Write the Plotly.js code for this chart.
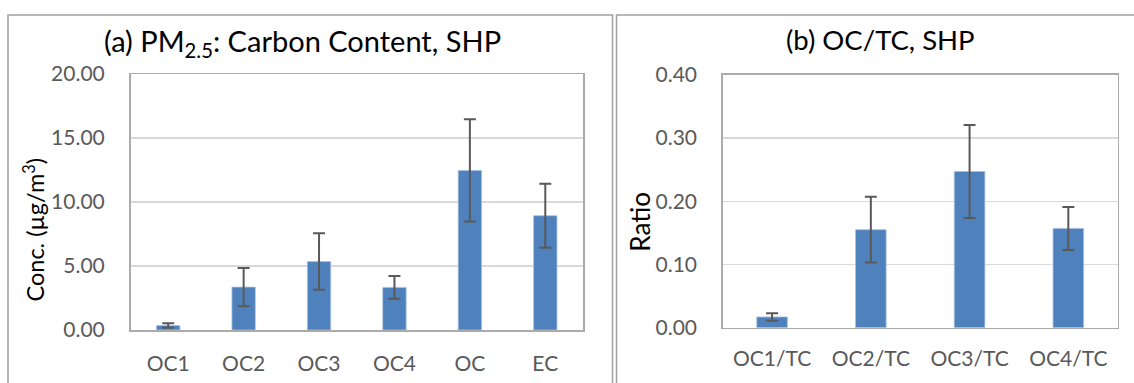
<!DOCTYPE html>
<html>
<head>
<meta charset="utf-8">
<script src="https://cdn.plot.ly/plotly-3.0.1.min.js"></script>
<style>html,body{margin:0;padding:0;background:#fff;}#chart{width:1134px;height:383px;}</style>
</head>
<body>
<div id="chart"></div>
<script>
// Panel (a): PM2.5 carbon content, SHP
const categoriesA = ["OC1", "OC2", "OC3", "OC4", "OC", "EC"];
const valuesA = [0.35, 3.35, 5.35, 3.33, 12.47, 8.93];
const errorsA = [0.18, 1.5, 2.2, 0.88, 4.0, 2.5];
const yTicksA = [0, 5, 10, 15, 20];

// Panel (b): OC/TC ratio, SHP
const categoriesB = ["OC1/TC", "OC2/TC", "OC3/TC", "OC4/TC"];
const valuesB = [0.017, 0.155, 0.247, 0.157];
const errorsB = [0.006, 0.052, 0.0735, 0.034];
const yTicksB = [0, 0.1, 0.2, 0.3, 0.4];

const FONT = "Lato, 'Open Sans', sans-serif";
const W = 1134, H = 383;
const px = v => v / W;
const py = v => (H - v) / H;

const barStyle = {color: "#4f81bd", line: {color: "#a9c1df", width: 0.8}};
const errStyle = {type: "data", visible: true, color: "#595959", thickness: 2, width: 6};

const traces = [
  {type: "bar", x: categoriesA, y: valuesA, xaxis: "x", yaxis: "y",
   marker: barStyle, error_y: Object.assign({array: errorsA}, errStyle), hoverinfo: "none"},
  {type: "bar", x: categoriesB, y: valuesB, xaxis: "x2", yaxis: "y2",
   marker: barStyle, error_y: Object.assign({array: errorsB}, errStyle), hoverinfo: "none"}
];

const axisCommon = {
  showline: true, mirror: true, linecolor: "#ababab", linewidth: 1.5,
  automargin: false, fixedrange: true,
  tickfont: {family: FONT, size: 21, color: "#595959"}
};

const layout = {
  width: W, height: H,
  margin: {l: 0, r: 0, t: 0, b: 0, pad: 0},
  paper_bgcolor: "#ffffff", plot_bgcolor: "#ffffff",
  showlegend: false, bargap: 0.69,
  xaxis: Object.assign({}, axisCommon, {
    domain: [px(130.5), px(583)], anchor: "y", type: "category",
    showgrid: false, ticks: "outside", ticklen: 0, ticklabelstandoff: 14
  }),
  yaxis: Object.assign({}, axisCommon, {
    domain: [py(330), py(74)], anchor: "x", range: [0, 20],
    tickvals: yTicksA, tickformat: ".2f",
    showgrid: true, gridcolor: "#d9d9d9", gridwidth: 1.3, zeroline: false,
    ticks: "outside", ticklen: 0, ticklabelstandoff: 20
  }),
  xaxis2: Object.assign({}, axisCommon, {
    domain: [px(722.7), px(1117.7)], anchor: "y2", type: "category",
    showgrid: false, ticks: "outside", ticklen: 0, ticklabelstandoff: 12
  }),
  yaxis2: Object.assign({}, axisCommon, {
    domain: [py(327.7), py(74.7)], anchor: "x2", range: [0, 0.4],
    tickvals: yTicksB, tickformat: ".2f",
    showgrid: true, gridcolor: "#d9d9d9", gridwidth: 1.3, zeroline: false,
    ticks: "outside", ticklen: 0, ticklabelstandoff: 20
  }),
  shapes: [
    {type: "rect", xref: "paper", yref: "paper", x0: px(8), x1: px(612.5), y0: py(390), y1: py(15),
     line: {color: "#a0a0a0", width: 1.5}, fillcolor: "rgba(0,0,0,0)", layer: "below"},
    {type: "rect", xref: "paper", yref: "paper", x0: px(616.5), x1: px(1145), y0: py(390), y1: py(15),
     line: {color: "#a0a0a0", width: 1.5}, fillcolor: "rgba(0,0,0,0)", layer: "below"}
  ],
  annotations: [
    {text: "(a) PM<sub>2.5</sub>: Carbon Content, SHP", xref: "paper", yref: "paper",
     x: px(302), y: py(42), xanchor: "center", yanchor: "middle", showarrow: false,
     font: {family: FONT, size: 29, color: "#000000"}},
    {text: "(b) OC/TC, SHP", xref: "paper", yref: "paper",
     x: px(880), y: py(40), xanchor: "center", yanchor: "middle", showarrow: false,
     font: {family: FONT, size: 27.5, color: "#000000"}},
    {text: "Conc. (µg/m<sup>3</sup>)", xref: "paper", yref: "paper",
     x: px(34), y: py(229.5), xanchor: "center", yanchor: "middle", textangle: -90, showarrow: false,
     font: {family: FONT, size: 23.5, color: "#000000"}},
    {text: "Ratio", xref: "paper", yref: "paper",
     x: px(640), y: py(221.7), xanchor: "center", yanchor: "middle", textangle: -90, showarrow: false,
     font: {family: FONT, size: 26, color: "#000000"}}
  ]
};

Plotly.newPlot("chart", traces, layout, {displayModeBar: false, staticPlot: true});
</script>
</body>
</html>
